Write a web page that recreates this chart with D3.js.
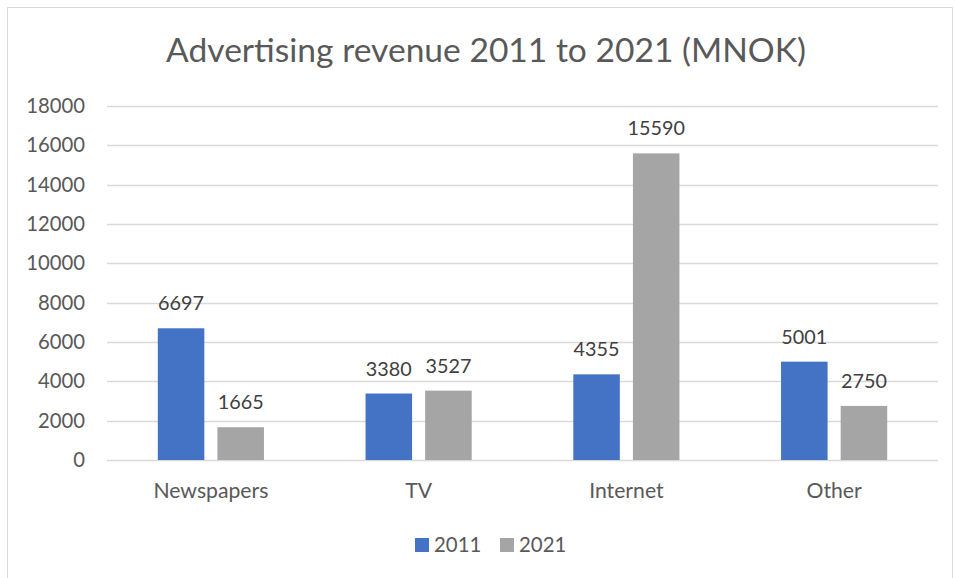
<!DOCTYPE html>
<html>
<head>
<meta charset="utf-8">
<script src="https://cdn.jsdelivr.net/npm/d3@7"></script>
<style>
  html, body { margin: 0; padding: 0; background: #fff; }
  svg { display: block; }
  text { font-family: Lato, "Open Sans", sans-serif; }
</style>
</head>
<body>
<svg id="chart" width="955" height="578"></svg>
<script>
// Advertising revenue by media type, million NOK
const categories = ["Newspapers", "TV", "Internet", "Other"];
const seriesNames = ["2011", "2021"];
const values2011 = [6697, 3380, 4355, 5001];
const values2021 = [1665, 3527, 15590, 2750];
const yTicks = [0, 2000, 4000, 6000, 8000, 10000, 12000, 14000, 16000, 18000];
const colors = ["#4472C4", "#A5A5A5"];

const series = [values2011, values2021];

const svg = d3.select("#chart");
const W = 955, H = 578;
const plot = { left: 107, right: 938, top: 106, bottom: 460 };

// chart frame
svg.append("rect")
  .attr("x", 7.5).attr("y", 7.5)
  .attr("width", W - 10).attr("height", H)
  .attr("fill", "#fff").attr("stroke", "#D9D9D9").attr("stroke-width", 1);

// title
svg.append("text")
  .attr("x", 486).attr("y", 62)
  .attr("text-anchor", "middle")
  .attr("font-size", 33.6)
  .attr("fill", "#595959")
  .text("Advertising revenue 2011 to 2021 (MNOK)");

const y = d3.scaleLinear().domain([0, 18000]).range([plot.bottom, plot.top]);
const x0 = d3.scaleBand().domain(categories).range([plot.left, plot.right]).padding(0);
const step = x0.bandwidth();
const barW = step * 0.224;
const gap = step * 0.063;
const groupW = barW * 2 + gap;

// gridlines
svg.append("g")
  .selectAll("line")
  .data(yTicks)
  .join("line")
  .attr("x1", plot.left).attr("x2", plot.right)
  .attr("y1", d => Math.round(y(d)) + 0.5).attr("y2", d => Math.round(y(d)) + 0.5)
  .attr("stroke", "#D9D9D9").attr("stroke-width", 1.3);

// y axis labels
const yAxis = d3.axisLeft(y).tickValues(yTicks).tickSize(0).tickPadding(0).tickFormat(d3.format("d"));
const gy = svg.append("g").attr("transform", `translate(85,0)`).call(yAxis);
gy.select(".domain").remove();
gy.selectAll("text")
  .attr("font-size", 20.3)
  .attr("fill", "#595959")
  .attr("font-family", "Lato, 'Open Sans', sans-serif");

// x axis labels
const xAxis = d3.axisBottom(x0).tickSize(0).tickPadding(0);
const gx = svg.append("g").attr("transform", `translate(0,${plot.bottom})`).call(xAxis);
gx.select(".domain").remove();
gx.selectAll("text")
  .attr("y", 38).attr("dy", null)
  .attr("font-size", 21.2)
  .attr("fill", "#595959")
  .attr("font-family", "Lato, 'Open Sans', sans-serif");

// bars and value labels
series.forEach((vals, si) => {
  const g = svg.append("g");
  const xPos = c => x0(c) + step / 2 - groupW / 2 + si * (barW + gap);
  g.selectAll("rect")
    .data(categories.map((c, i) => ({ c, v: vals[i] })))
    .join("rect")
    .attr("x", d => xPos(d.c))
    .attr("y", d => y(d.v))
    .attr("width", barW)
    .attr("height", d => y(0) - y(d.v))
    .attr("fill", colors[si]);
  g.selectAll("text")
    .data(categories.map((c, i) => ({ c, v: vals[i] })))
    .join("text")
    .attr("x", d => xPos(d.c) + barW / 2)
    .attr("y", d => y(d.v) - 18)
    .attr("text-anchor", "middle")
    .attr("font-size", 19.8)
    .attr("fill", "#404040")
    .text(d => d.v);
});

// legend
const legend = svg.append("g");
const legendX = [415, 500];
seriesNames.forEach((name, i) => {
  legend.append("rect")
    .attr("x", legendX[i]).attr("y", 538)
    .attr("width", 14).attr("height", 14)
    .attr("fill", colors[i]);
  legend.append("text")
    .attr("x", legendX[i] + 19).attr("y", 552)
    .attr("font-size", 20.4)
    .attr("fill", "#595959")
    .text(name);
});
</script>
</body>
</html>
